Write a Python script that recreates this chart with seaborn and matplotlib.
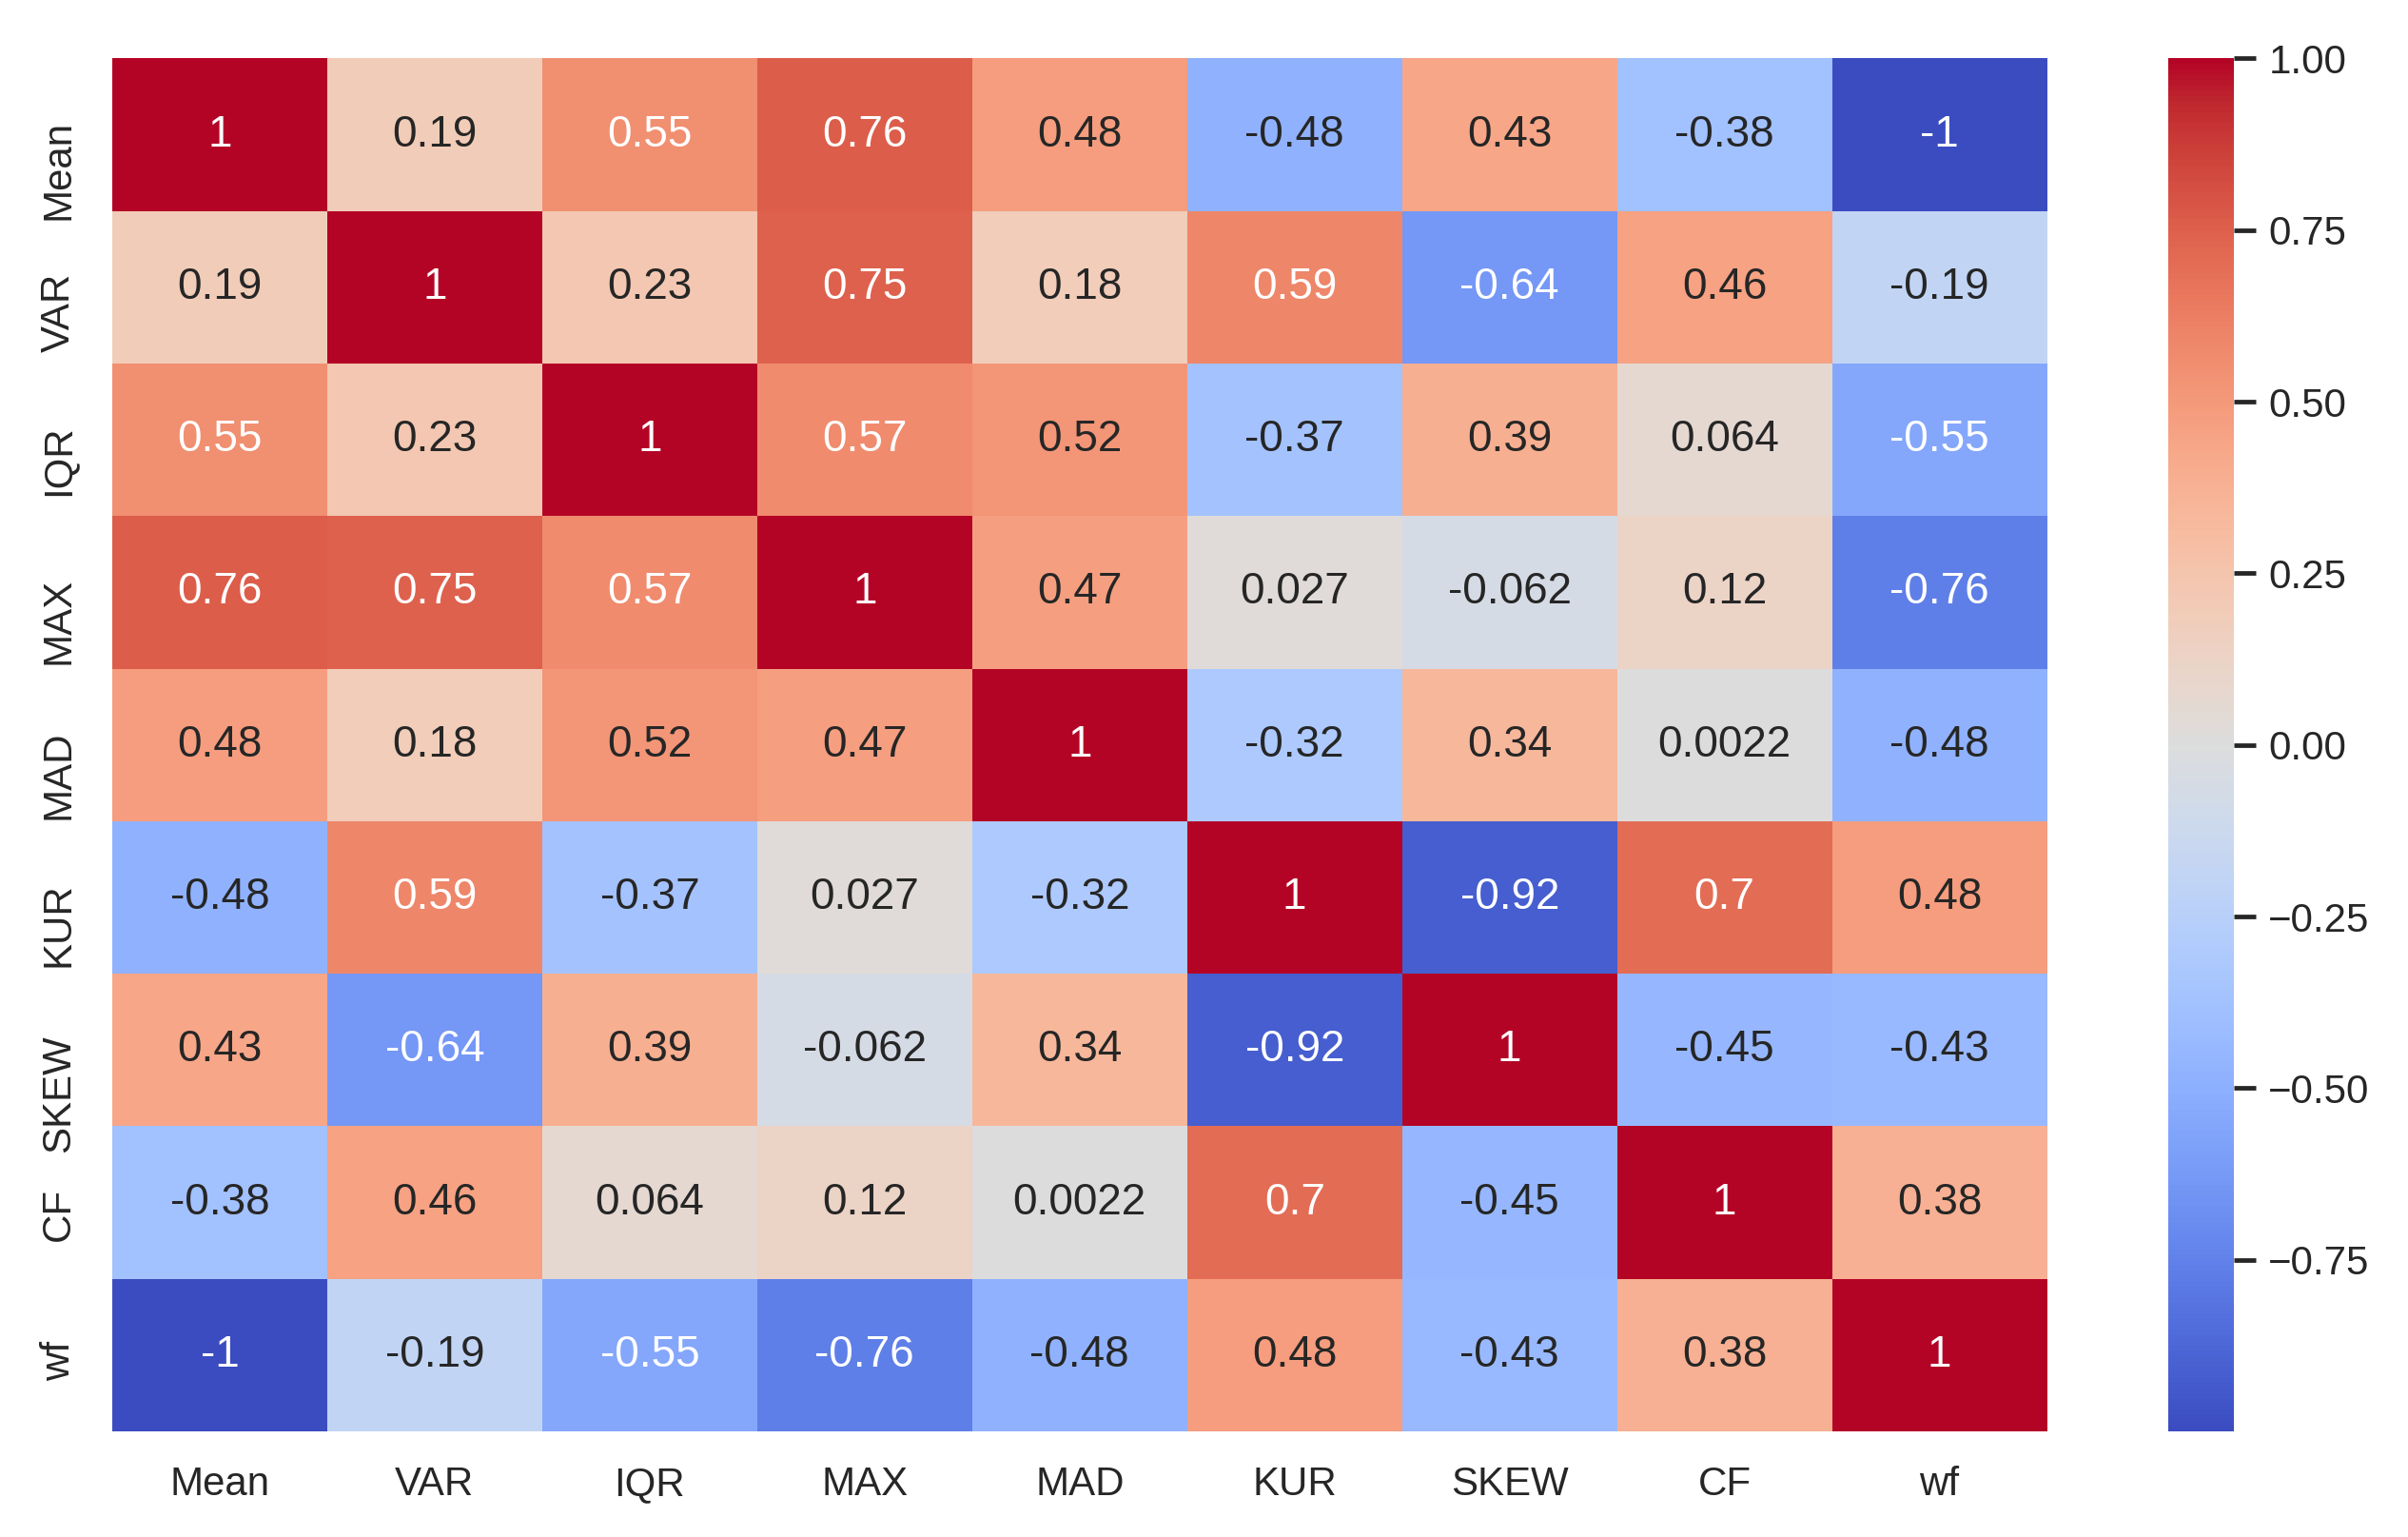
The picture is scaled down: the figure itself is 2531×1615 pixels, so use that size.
import numpy as np
import pandas as pd
import seaborn as sns
import matplotlib.pyplot as plt

# feature names (rows and columns of the correlation matrix)
features = ['Mean', 'VAR', 'IQR', 'MAX', 'MAD', 'KUR', 'SKEW', 'CF', 'wf']

# correlation values, row by row
r_mean = [1, 0.19, 0.55, 0.76, 0.48, -0.48, 0.43, -0.38, -0.9999]
r_var = [0.19, 1, 0.23, 0.75, 0.18, 0.59, -0.64, 0.46, -0.19]
r_iqr = [0.55, 0.23, 1, 0.57, 0.52, -0.37, 0.39, 0.064, -0.55]
r_max = [0.76, 0.75, 0.57, 1, 0.47, 0.027, -0.062, 0.12, -0.76]
r_mad = [0.48, 0.18, 0.52, 0.47, 1, -0.32, 0.34, 0.0022, -0.48]
r_kur = [-0.48, 0.59, -0.37, 0.027, -0.32, 1, -0.92, 0.7, 0.48]
r_skew = [0.43, -0.64, 0.39, -0.062, 0.34, -0.92, 1, -0.45, -0.43]
r_cf = [-0.38, 0.46, 0.064, 0.12, 0.0022, 0.7, -0.45, 1, 0.38]
r_wf = [-0.9999, -0.19, -0.55, -0.76, -0.48, 0.48, -0.43, 0.38, 1]

corr = pd.DataFrame([r_mean, r_var, r_iqr, r_max, r_mad, r_kur, r_skew, r_cf, r_wf],
                    index=features, columns=features)

sns.set_theme(style='white')
plt.rcParams['font.family'] = ['Liberation Sans', 'DejaVu Sans']

dpi = 275
fig = plt.figure(figsize=(2531 / dpi, 1615 / dpi), dpi=dpi)
ax = fig.add_axes([0.0466, 0.0687, 0.8035, 0.8933])
cax = fig.add_axes([0.9004, 0.0687, 0.0273, 0.8933])

sns.heatmap(corr, annot=True, cmap='coolwarm', ax=ax, cbar_ax=cax)

# y labels in the original sit with their end just above the row centre
plt.setp(ax.get_yticklabels(), va='center_baseline')

fig.savefig('out.png', dpi=dpi)
